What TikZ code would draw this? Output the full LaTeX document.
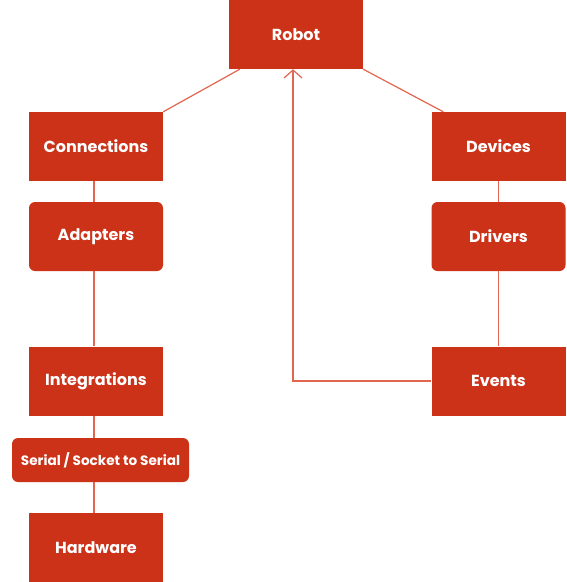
\documentclass[tikz,border=0pt]{standalone}
\usepackage{fontspec}
\setmainfont{Poppins}
\usetikzlibrary{arrows.meta}
\definecolor{boxred}{HTML}{CB3218}
\definecolor{linered}{HTML}{E2654F}

\begin{document}
\begin{tikzpicture}[x=1pt,y=-1pt,
    box/.style={fill=boxred, text=white, font=\bfseries\fontsize{16}{19}\selectfont,
      minimum width=134pt, minimum height=69pt, inner sep=0pt},
    roundbox/.style={box, rounded corners=6pt},
    link/.style={draw=linered, line width=1.2pt}]
    \useasboundingbox (0,0) rectangle (566,582);

    \node[box] (robot) at (296,34.5) {Robot};
    \node[box] (connections) at (96,146.5) {Connections};
    \node[roundbox] (adapters) at (96,236.5) {Adapters};
    \node[box] (integrations) at (96,381) {Integrations};
    \node[roundbox, minimum width=177pt, minimum height=44pt,
      font=\bfseries\fontsize{13.6}{16}\selectfont] (serial) at (100.5,460) {Serial / Socket to Serial};
    \node[box] (hardware) at (96,547.5) {Hardware};
    \node[box] (devices) at (498.5,146.5) {Devices};
    \node[roundbox] (drivers) at (498.5,236.5) {Drivers};
    \node[box] (events) at (498.5,381) {Events};

    \draw[link] ([xshift=11pt]robot.south west) -- (connections.north east);
    \draw[link] (robot.south east) -- ([xshift=12pt]devices.north west);
    \draw[link] ([xshift=-2pt]connections.south) -- ([xshift=-2pt]adapters.north);
    \draw[link] ([xshift=-2pt]adapters.south) -- ([xshift=-2pt]integrations.north);
    \draw[link] ([xshift=-2pt]integrations.south) -- ([xshift=-2pt]integrations.south |- serial.north);
    \draw[link] ([xshift=-2pt]hardware.north |- serial.south) -- ([xshift=-2pt]hardware.north);
    \draw[link] (devices) -- (drivers);
    \draw[link] (drivers) -- (events);
    \draw[link, -{Straight Barb[length=8pt,width=18pt]}] (events.west) -| ([xshift=-3pt]robot.south);
\end{tikzpicture}
\end{document}
